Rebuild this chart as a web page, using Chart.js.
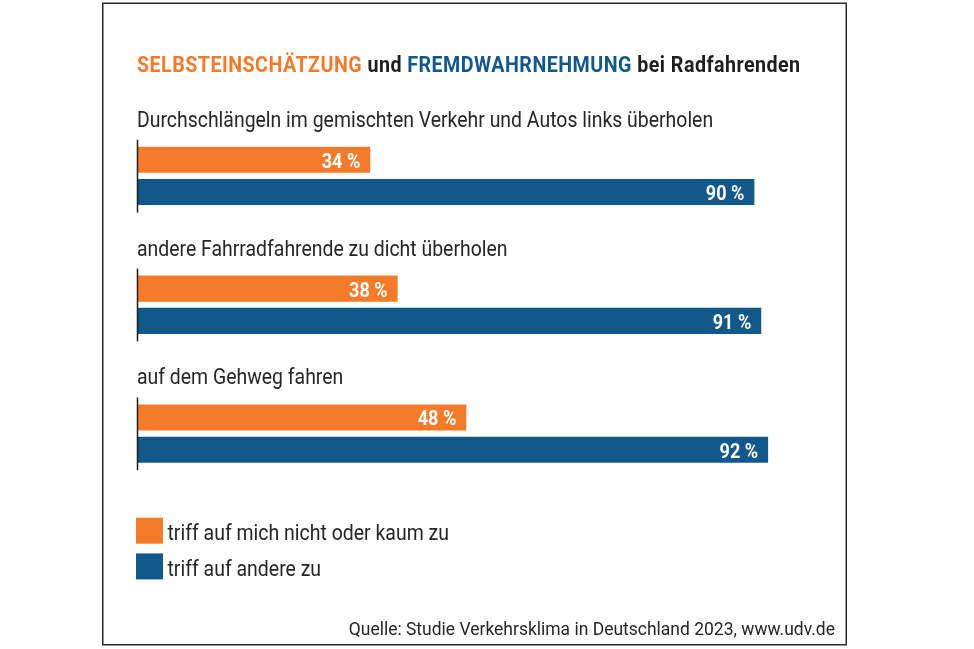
<!DOCTYPE html>
<html lang="de">
<head>
<meta charset="utf-8">
<title>Selbsteinschätzung und Fremdwahrnehmung bei Radfahrenden</title>
<script src="https://cdn.jsdelivr.net/npm/chart.js@4"></script>
<style>
  html, body { margin: 0; padding: 0; background: #fff; }
  #chart { display: block; }
</style>
</head>
<body>
<canvas id="chart" width="974" height="649" style="width:974px;height:649px"></canvas>
<script>
/* ── Daten ──────────────────────────────────────────────────── */
const categories = [
  'Durchschlängeln im gemischten Verkehr und Autos links überholen',
  'andere Fahrradfahrende zu dicht überholen',
  'auf dem Gehweg fahren',
];
const seriesLabels = ['triff auf mich nicht oder kaum zu', 'triff auf andere zu'];
const selbst = [34, 38, 48];
const fremd  = [90, 91, 92];

const titleParts = [
  ['SELBSTEINSCHÄTZUNG', 'orange'],
  [' und ', 'dark'],
  ['FREMDWAHRNEHMUNG', 'blue'],
  [' bei Radfahrenden', 'dark'],
];
const sourceText = 'Quelle: Studie Verkehrsklima in Deutschland 2023, www.udv.de';

/* ── Theme ──────────────────────────────────────────────────── */
const THEME = {
  orange: '#F47B2B',
  blue:   '#13588A',
  dark:   '#1E1E1E',
  text:   '#262626',
  frame:  '#2B2B2B',
};
const FONT = "Roboto, 'Noto Sans', sans-serif";

// schmaler Schnitt (Condensed) wird über horizontale Skalierung nachgebildet
function drawText(ctx, text, x, y, { font, color, align = 'left', sx = 0.88, spacing = '0px' }) {
  ctx.save();
  ctx.font = font;
  ctx.letterSpacing = spacing;
  ctx.fillStyle = color;
  ctx.textBaseline = 'alphabetic';
  const w = ctx.measureText(text).width * sx;
  const x0 = align === 'right' ? x - w : x;
  ctx.translate(x0, y);
  ctx.scale(sx, 1);
  ctx.fillText(text, 0, 0);
  ctx.restore();
  return w;
}

/* ── Plugin: Rahmen, Titel, Kategorien, Werte, Legende ─────── */
const decoPlugin = {
  id: 'deco',
  beforeDraw(chart) {
    const { ctx } = chart;
    ctx.save();
    ctx.fillStyle = '#fff';
    ctx.fillRect(0, 0, chart.width, chart.height);
    ctx.strokeStyle = THEME.frame;
    ctx.lineWidth = 1.5;
    ctx.strokeRect(102.75, 3.25, 743.5, 641.5);
    ctx.restore();

    // Titel
    let x = 137;
    titleParts.forEach(([txt, c]) => {
      x += drawText(ctx, txt, x, 72, {
        font: `bold 22px ${FONT}`, color: THEME[c], sx: 0.895, spacing: '0.5px',
      });
    });

    // Quelle
    drawText(ctx, sourceText, 835, 635, { font: `19px ${FONT}`, color: THEME.text, align: 'right', sx: 0.92 });
  },
  afterDatasetsDraw(chart) {
    const { ctx } = chart;
    const m0 = chart.getDatasetMeta(0);
    const m1 = chart.getDatasetMeta(1);
    const x0 = chart.scales.x.getPixelForValue(0);

    categories.forEach((cat, i) => {
      const a = m0.data[i], b = m1.data[i];
      const top = a.y - a.height / 2;
      const bottom = b.y + b.height / 2;

      // Kategorie-Beschriftung
      drawText(ctx, cat, 137, top - 20, { font: `22px ${FONT}`, color: THEME.text, sx: 0.883 });

      // Achsenstück
      ctx.save();
      ctx.strokeStyle = THEME.dark;
      ctx.lineWidth = 1.5;
      ctx.beginPath();
      ctx.moveTo(x0 + 0.5, top - 7);
      ctx.lineTo(x0 + 0.5, bottom + 7.5);
      ctx.stroke();
      ctx.restore();
    });

    // Werte
    chart.data.datasets.forEach((ds, di) => {
      chart.getDatasetMeta(di).data.forEach((bar, i) => {
        drawText(ctx, ds.data[i] + ' %', bar.x - 10, bar.y + 8, {
          font: `bold 21px ${FONT}`, color: '#fff', align: 'right', sx: 0.86,
        });
      });
    });

    // Legende
    chart.data.datasets.forEach((ds, di) => {
      const y = 517.7 + di * 35.7;
      ctx.fillStyle = ds.backgroundColor;
      ctx.fillRect(136, y, 27, 26);
      drawText(ctx, ds.label, 167.5, y + 22.5, { font: `22px ${FONT}`, color: THEME.text, sx: 0.885 });
    });
  },
};

/* ── Chart ──────────────────────────────────────────────────── */
new Chart(document.getElementById('chart').getContext('2d'), {
  type: 'bar',
  data: {
    labels: categories,
    datasets: [
      { label: seriesLabels[0], data: selbst, backgroundColor: THEME.orange },
      { label: seriesLabels[1], data: fremd,  backgroundColor: THEME.blue },
    ],
  },
  options: {
    indexAxis: 'y',
    responsive: false,
    animation: false,
    devicePixelRatio: 1,
    barPercentage: 0.81,
    categoryPercentage: 0.5,
    layout: { padding: { left: 137, right: 151, top: 111.5, bottom: 151 } },
    scales: {
      x: { display: false, min: 0, max: 100 },
      y: { display: false },
    },
    plugins: {
      legend:  { display: false },
      tooltip: { enabled: false },
    },
  },
  plugins: [decoPlugin],
});
</script>
</body>
</html>
